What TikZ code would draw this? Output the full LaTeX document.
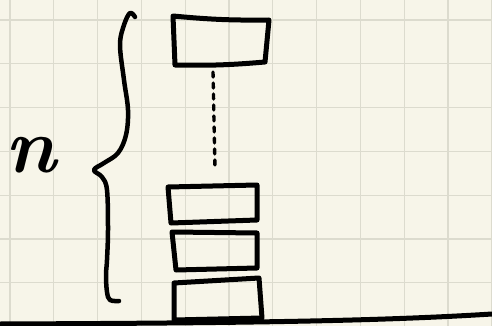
\documentclass[tikz,border=0pt]{standalone}
\usepackage{fontspec}
\usepackage{xcolor}
\definecolor{paper}{HTML}{F7F5E9}
\definecolor{gridc}{HTML}{DCDBCE}
\begin{document}
\begin{tikzpicture}[x=1pt,y=-1pt,
  ink/.style={line width=5pt,line cap=round,line join=round,black},
  gridline/.style={gridc,line width=1.1pt}]
\fill[paper] (0,0) rectangle (492,326);
\useasboundingbox (0,0) rectangle (492,326);
% grid
\foreach \i in {0,...,11} {\draw[gridline] ({10+43.8*\i},0) -- ({10+43.8*\i},326);}
\foreach \j in {0,...,7} {\draw[gridline] (0,{20+43.8*\j}) -- (492,{20+43.8*\j});}
% top box
\coordinate (t1) at (173,16); \coordinate (t2) at (269,20);
\coordinate (t3) at (265,62); \coordinate (t4) at (175,65);
\draw[ink] (t1) to[bend right=3] (t2) -- (t3) to[bend right=-3] (t4) -- cycle;
% boxes
\coordinate (a1) at (168,187); \coordinate (a2) at (257,185);
\coordinate (a3) at (257,220); \coordinate (a4) at (171,223);
\draw[ink] (a1) -- (a2) -- (a3) -- (a4) -- cycle;
\coordinate (b1) at (172,232); \coordinate (b2) at (257,233);
\coordinate (b3) at (257,268); \coordinate (b4) at (176,270);
\draw[ink] (b1) -- (b2) -- (b3) -- (b4) -- cycle;
\coordinate (c1) at (174,283); \coordinate (c2) at (259,278);
\coordinate (c3) at (262,318); \coordinate (c4) at (174,320);
\draw[ink] (c1) -- (c2) -- (c3) -- (c4) -- cycle;
% dashed connector
\coordinate (d1) at (213,72); \coordinate (d2) at (215,168);
\draw[line width=3.4pt,line cap=round,dash pattern=on 5pt off 6pt] (d1) -- (d2);
% brace
\draw[ink,line width=4.5pt] plot[smooth,tension=0.6] coordinates {(135,17) (130,13) (124,25) (120,45) (124,80) (128,110) (126,135) (118,153) (104,163) (94,170) (102,177) (107,190) (108,230) (107,260) (106,275) (107,292) (110,300) (119,301)};
% base line
\coordinate (g1) at (0,324); \coordinate (g2) at (492,314);
\draw[ink] (g1) .. controls (250,323) and (380,321) .. (g2);
% label
\node[inner sep=0pt,anchor=base] (n) at (31,172) {\fontsize{78}{78}\selectfont\bfseries\itshape n};
\end{tikzpicture}
\end{document}
